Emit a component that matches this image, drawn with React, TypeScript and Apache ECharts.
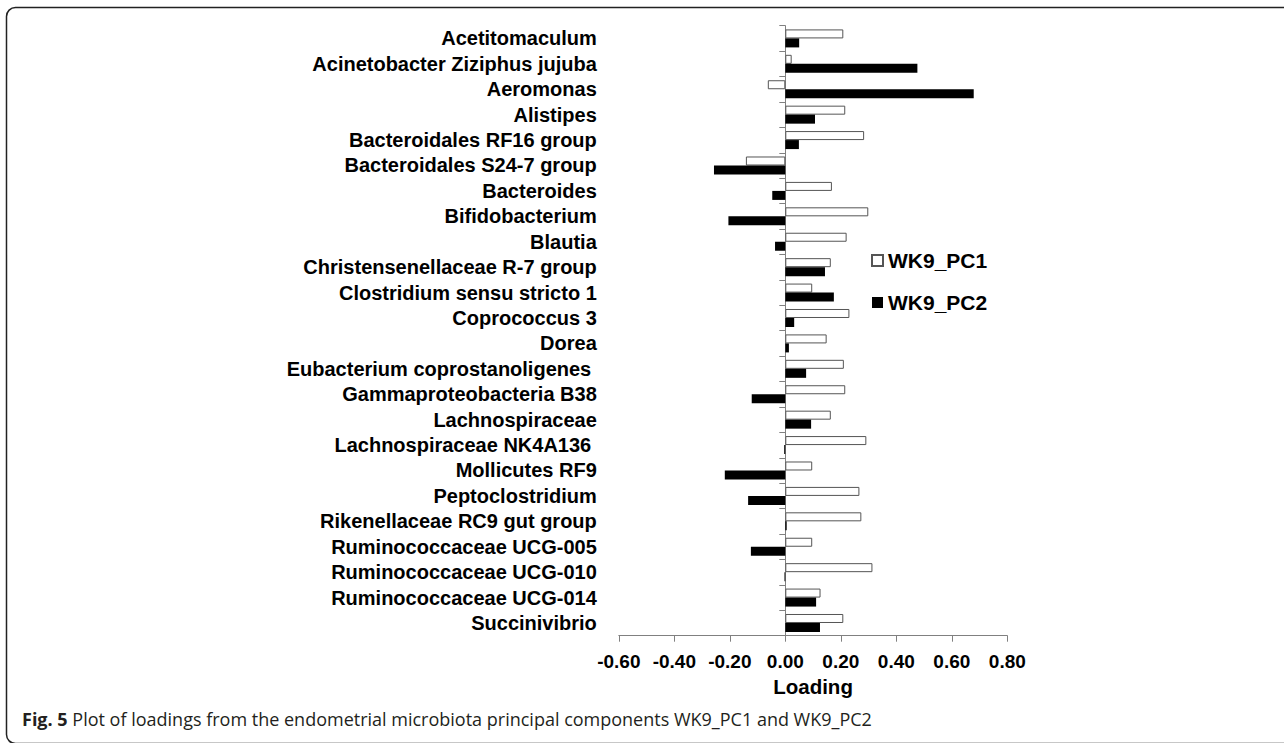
import React, { useEffect, useRef } from "react";
import * as echarts from "echarts";

const categories = [
  "Acetitomaculum",
  "Acinetobacter Ziziphus jujuba",
  "Aeromonas",
  "Alistipes",
  "Bacteroidales RF16 group",
  "Bacteroidales S24-7 group",
  "Bacteroides",
  "Bifidobacterium",
  "Blautia",
  "Christensenellaceae R-7 group",
  "Clostridium sensu stricto 1",
  "Coprococcus 3",
  "Dorea",
  "Eubacterium coprostanoligenes ",
  "Gammaproteobacteria B38",
  "Lachnospiraceae",
  "Lachnospiraceae NK4A136 ",
  "Mollicutes RF9",
  "Peptoclostridium",
  "Rikenellaceae RC9 gut group",
  "Ruminococcaceae UCG-005",
  "Ruminococcaceae UCG-010",
  "Ruminococcaceae UCG-014",
  "Succinivibrio",
];

const pc1 = [
  0.209, 0.023, -0.063, 0.216, 0.284, -0.142, 0.168, 0.299, 0.221, 0.164, 0.097, 0.231,
  0.149, 0.211, 0.216, 0.164, 0.292, 0.097, 0.267, 0.274, 0.097, 0.314, 0.127, 0.209,
];

const pc2 = [
  0.05, 0.476, 0.679, 0.107, 0.049, -0.257, -0.047, -0.205, -0.037, 0.143, 0.175, 0.032,
  0.013, 0.075, -0.121, 0.093, -0.004, -0.218, -0.134, 0.005, -0.124, -0.003, 0.111, 0.125,
];

const seriesNames = ["WK9_PC1", "WK9_PC2"];
const axisTitle = "Loading";
const captionBold = "Fig. 5";
const captionText =
  " Plot of loadings from the endometrial microbiota principal components WK9_PC1 and WK9_PC2";

const FONT = "'Liberation Sans', Arial, Helvetica, sans-serif";

export default function App() {
  const ref = useRef<HTMLDivElement>(null);

  useEffect(() => {
    if (!ref.current) return;
    const chart = echarts.init(ref.current, null, { renderer: "svg" });
    const axisColor = "#808080";
    chart.setOption({
      animation: false,
      backgroundColor: "#fff",
      grid: { left: 618.8, right: 276.7, top: 25.7, bottom: 107.3, containLabel: false },
      legend: {
        orient: "vertical",
        left: 871,
        top: 250,
        padding: 0,
        itemWidth: 11,
        itemHeight: 11,
        itemGap: 21,
        icon: "rect",
        textStyle: { fontFamily: FONT, fontWeight: "bold", fontSize: 21, color: "#000", lineHeight: 21 },
        data: seriesNames,
      },
      xAxis: {
        type: "value",
        min: -0.6,
        max: 0.8,
        interval: 0.2,
        name: axisTitle,
        nameLocation: "middle",
        nameGap: 38,
        nameTextStyle: { fontFamily: FONT, fontWeight: "bold", fontSize: 20.5, color: "#000" },
        splitLine: { show: false },
        axisLine: { show: true, onZero: false, lineStyle: { color: axisColor, width: 1 } },
        axisTick: { show: true, length: 6, lineStyle: { color: axisColor } },
        axisLabel: {
          fontFamily: FONT,
          fontWeight: "bold",
          fontSize: 19,
          color: "#000",
          margin: 16,
          formatter: (v: number) => v.toFixed(2),
        },
      },
      yAxis: {
        type: "category",
        data: categories,
        inverse: true,
        axisLine: { show: true, onZero: true, lineStyle: { color: axisColor, width: 1 } },
        axisTick: { show: true, length: 6, interval: 0, lineStyle: { color: axisColor } },
        axisLabel: {
          interval: 0,
          fontFamily: FONT,
          fontWeight: "bold",
          fontSize: 20,
          color: "#000",
          margin: 22,
        },
        splitLine: { show: false },
      },
      series: [
        {
          name: seriesNames[0],
          type: "bar",
          data: pc1,
          barWidth: 9,
          barGap: "0%",
          itemStyle: { color: "#fff", borderColor: "#555", borderWidth: 1 },
        },
        {
          name: seriesNames[1],
          type: "bar",
          data: pc2,
          barWidth: 9,
          barGap: "0%",
          itemStyle: { color: "#000" },
        },
      ],
      graphic: [
        {
          type: "rect",
          shape: { x: 6.5, y: 7.5, width: 1300, height: 736, r: 9 },
          style: { fill: "none", stroke: "#222", lineWidth: 1.5 },
          silent: true,
        },
        {
          type: "text",
          left: 22,
          top: 710,
          style: {
            text: `{b|${captionBold}}{n|${captionText}}`,
            rich: {
              b: { fontFamily: "'Open Sans', sans-serif", fontWeight: "bold", fontSize: 18, fill: "#231f20" },
              n: { fontFamily: "'Open Sans', sans-serif", fontSize: 18, fill: "#231f20" },
            },
          },
        },
      ],
    });
    return () => chart.dispose();
  }, []);

  return (
    <div
      ref={ref}
      style={{ position: "fixed", left: 0, top: 0, width: 1284, height: 743, background: "#fff" }}
    />
  );
}
